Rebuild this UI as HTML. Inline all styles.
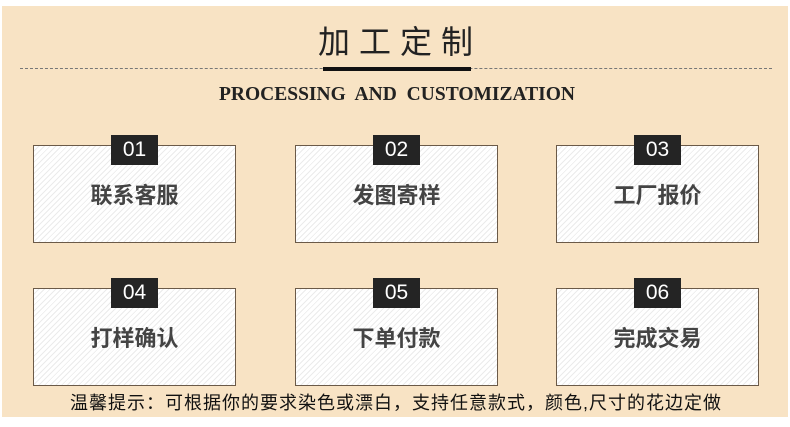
<!DOCTYPE html>
<html><head><meta charset="utf-8"><style>
body{margin:0;width:790px;height:427px;background:#fff;position:relative;overflow:hidden;font-family:"Liberation Sans","Noto Sans CJK SC",sans-serif}
.bg{position:absolute;left:2px;top:6px;width:786px;height:411px;background:#f8e3c4}
.t{position:absolute;left:318px;top:22px;font-size:32px;letter-spacing:9px;color:#222;line-height:40px;white-space:nowrap}
.dash{position:absolute;left:20px;top:68px;width:752px;border-top:1px dashed #777}
.bar{position:absolute;left:323px;top:67px;width:148px;height:4px;background:#111}
.en{position:absolute;left:214px;top:82px;width:366px;text-align:center;font-family:"Liberation Serif",serif;font-weight:bold;font-size:19.5px;color:#222;word-spacing:5px;white-space:nowrap;line-height:26px}
.box{position:absolute;width:201px;height:96px;border:1px solid #6b5a48;background:repeating-linear-gradient(135deg,#fff 0 3px,#ebebeb 3px 4px)}
.box .n{position:absolute;left:77px;top:-11px;width:47px;height:30px;background:#242424;color:#fff;font-size:21px;text-align:center;line-height:30px}
.box .l{position:absolute;left:0;right:0;top:35px;text-align:center;font-size:22px;font-weight:bold;color:#444;line-height:30px}
.note{position:absolute;left:70px;top:391px;font-size:18px;letter-spacing:1px;color:#111;white-space:nowrap;line-height:24px}
</style></head><body>
<div class="bg"></div>
<div class="t">加工定制</div>
<div class="dash"></div><div class="bar"></div>
<div class="en">PROCESSING AND CUSTOMIZATION</div>
<div class="box" style="left:33px;top:145px"><div class="n">01</div><div class="l">联系客服</div></div>
<div class="box" style="left:295px;top:145px"><div class="n">02</div><div class="l">发图寄样</div></div>
<div class="box" style="left:556px;top:145px"><div class="n">03</div><div class="l">工厂报价</div></div>
<div class="box" style="left:33px;top:288px"><div class="n">04</div><div class="l">打样确认</div></div>
<div class="box" style="left:295px;top:288px"><div class="n">05</div><div class="l">下单付款</div></div>
<div class="box" style="left:556px;top:288px"><div class="n">06</div><div class="l">完成交易</div></div>
<div class="note">温馨提示：可根据你的要求染色或漂白，支持任意款式，颜色,尺寸的花边定做</div>
</body></html>
